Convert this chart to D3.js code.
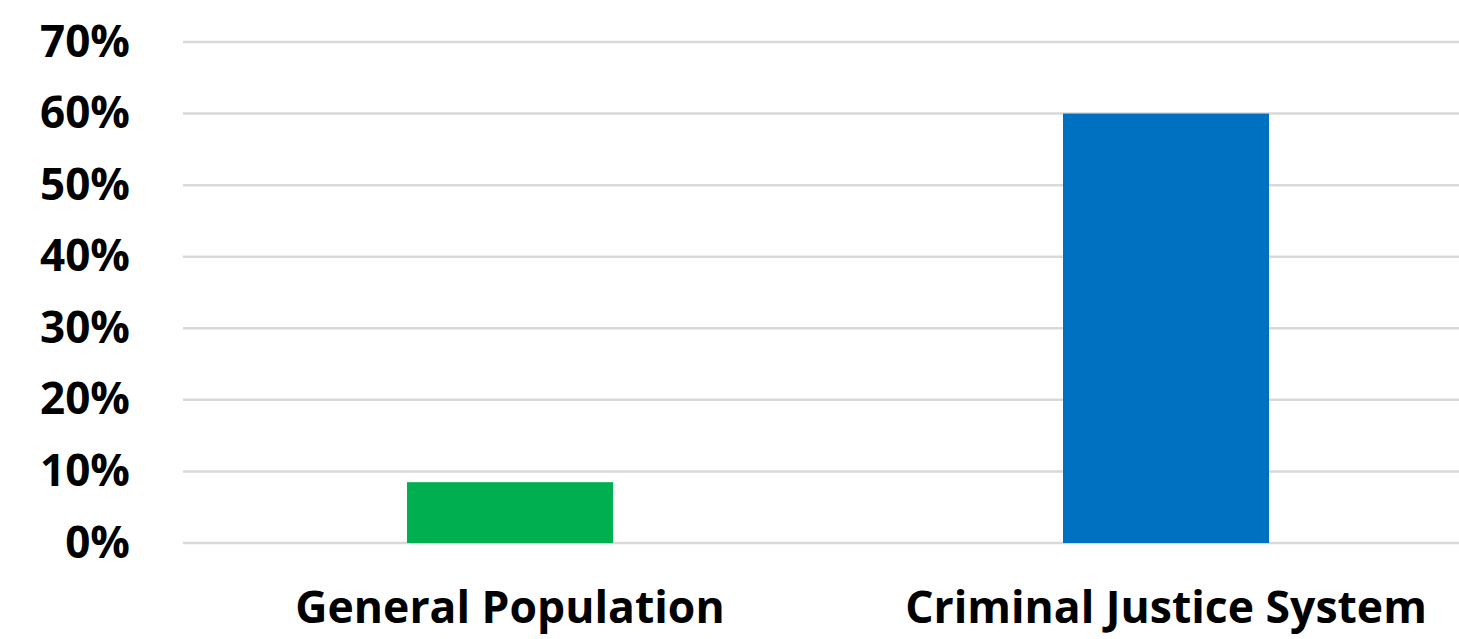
<!DOCTYPE html>
<html>
<head>
<meta charset="utf-8">
<script src="https://cdn.jsdelivr.net/npm/d3@7"></script>
<style>
  body { margin: 0; background: #fff; }
  svg { display: block; }
</style>
</head>
<body>
<div id="chart"></div>
<script>
// data
const categories = ["General Population", "Criminal Justice System"];
const values = [0.085, 0.60];
const barColors = ["#00B050", "#0070C0"];
const yTicks = [0, 0.1, 0.2, 0.3, 0.4, 0.5, 0.6, 0.7];

// dimensions (plot area runs a bit past the right edge, like the original)
const W = 1459, H = 639;
const margin = {top: 42, left: 182, bottom: 96};
const plotRight = 1494;

const svg = d3.select("#chart")
  .append("svg")
    .attr("width", W)
    .attr("height", H);

const y = d3.scaleLinear()
  .domain([0, 0.7])
  .range([H - margin.bottom, margin.top]);

const x = d3.scaleBand()
  .domain(categories)
  .range([margin.left, plotRight])
  .paddingInner(0.686)
  .paddingOuter(0.343);

// gridlines
svg.append("g")
  .selectAll("line")
  .data(yTicks)
  .join("line")
    .attr("x1", margin.left + 1)
    .attr("x2", plotRight)
    .attr("y1", d => y(d))
    .attr("y2", d => y(d))
    .attr("stroke", "#D9D9D9")
    .attr("stroke-width", 2.5);

// y axis labels
svg.append("g")
  .attr("transform", `translate(${margin.left},0)`)
  .call(d3.axisLeft(y).tickValues(yTicks).tickFormat(d3.format(".0%")).tickSize(0).tickPadding(52))
  .call(g => g.select(".domain").remove())
  .selectAll("text")
    .attr("font-family", "'Open Sans', sans-serif")
    .attr("font-weight", "bold")
    .attr("font-size", "44px")
    .attr("fill", "#000");

// bars
svg.selectAll(".bar")
  .data(categories)
  .join("rect")
    .attr("class", "bar")
    .attr("x", d => x(d))
    .attr("width", x.bandwidth())
    .attr("y", (d, i) => y(values[i]))
    .attr("height", (d, i) => y(0) - y(values[i]))
    .attr("fill", (d, i) => barColors[i]);

// x axis labels
svg.append("g")
  .attr("transform", `translate(0,${y(0)})`)
  .call(d3.axisBottom(x).tickSize(0).tickPadding(48))
  .call(g => g.select(".domain").remove())
  .selectAll("text")
    .attr("font-family", "'Open Sans', sans-serif")
    .attr("font-weight", "bold")
    .attr("font-size", "44.5px")
    .attr("fill", "#000");
</script>
</body>
</html>
